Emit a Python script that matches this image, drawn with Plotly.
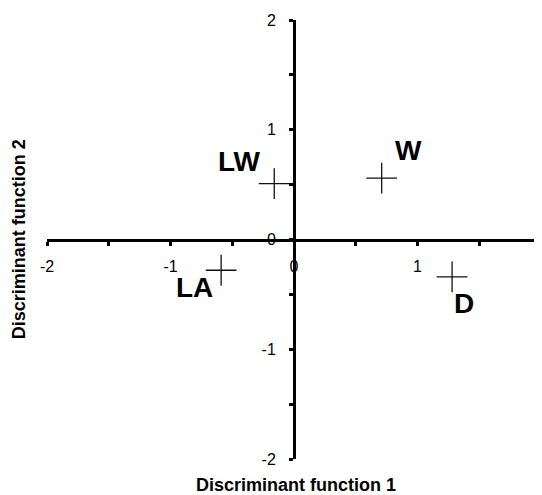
import plotly.graph_objects as go

# Data
groups = ["LW", "W", "LA", "D"]
df1 = [-0.16, 0.71, -0.59, 1.28]
df2 = [0.51, 0.56, -0.28, -0.34]
tick_vals = [-2, -1, 0, 1, 2]
tick_text = ["-2", "-1", "0", "1", "2"]

# label offsets in pixels (style)
label_shift = {"LW": (-35, 22), "W": (27, 28), "LA": (-27, -17), "D": (12, -27)}

FONT = "Liberation Sans, Arial, sans-serif"

fig = go.Figure()
fig.add_trace(go.Scatter(
    x=df1, y=df2, mode="markers",
    marker=dict(symbol="cross-thin", size=22, color="#111",
                line=dict(width=1.3, color="#111")),
    showlegend=False, hoverinfo="skip", cliponaxis=False))

for g, xv, yv in zip(groups, df1, df2):
    dx, dy = label_shift[g]
    fig.add_annotation(x=xv, y=yv, xref="x", yref="y", text=g, showarrow=False,
                       xshift=dx, yshift=dy,
                       font=dict(family=FONT, size=28, color="black", weight="bold"))

axis_common = dict(
    range=[-2, 2], showgrid=False, zeroline=False,
    showline=True, linewidth=3, linecolor="black",
    ticks="outside", ticklen=4, tickwidth=2.5, tickcolor="black",
    tickvals=tick_vals, ticktext=tick_text,
    tickfont=dict(family=FONT, size=16, color="black"),
    minor=dict(tickvals=[-1.5, -0.5, 0.5, 1.5], ticks="outside", ticklen=4,
               tickwidth=2.5, tickcolor="black"),
    anchor="free", position=0.5, automargin=False, fixedrange=True,
    ticklabeloverflow="allow",
)

# the page body has an 8px default margin, so the figure is sized to fit
fig.update_layout(
    width=534, height=487,
    margin=dict(l=39, r=1, t=12, b=36),
    paper_bgcolor="white", plot_bgcolor="white",
    xaxis=dict(**axis_common, ticklabelstandoff=7),
    yaxis=dict(**axis_common, ticklabelstandoff=10),
)

fig.add_annotation(x=0.504, y=-0.06, xref="paper", yref="paper",
                   text="Discriminant function 1", showarrow=False,
                   xanchor="center", yanchor="middle",
                   font=dict(family=FONT, size=18, color="black", weight="bold"))
fig.add_annotation(x=-0.057, y=0.5, xref="paper", yref="paper",
                   text="Discriminant function 2", showarrow=False, textangle=-90,
                   xanchor="center", yanchor="middle",
                   font=dict(family=FONT, size=18, color="black", weight="bold"))

fig.write_html("out.html")
